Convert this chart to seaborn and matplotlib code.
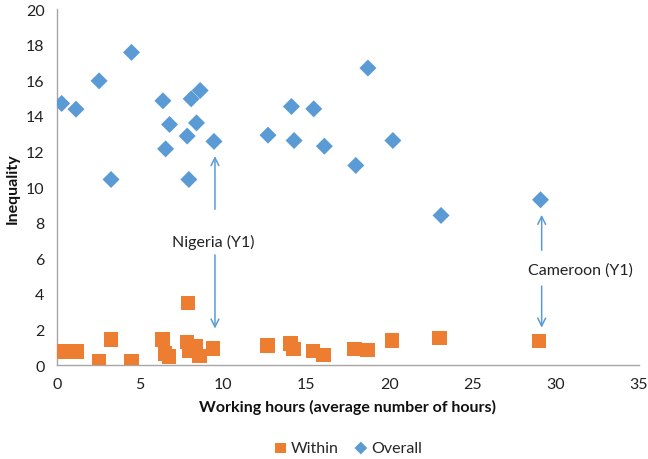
import numpy as np
import pandas as pd
import matplotlib
matplotlib.use("Agg")
import matplotlib.pyplot as plt
import seaborn as sns

overall_x = [0.28, 1.14, 2.53, 3.25, 4.48, 6.37, 6.53, 6.77, 7.83, 7.93, 8.07, 8.39,
             8.61, 9.44, 12.69, 14.10, 14.26, 15.44, 16.08, 17.97, 18.70, 20.20, 23.10, 29.08]
overall_y = [14.7, 14.38, 15.97, 10.43, 17.57, 14.85, 12.15, 13.52, 12.87, 10.43, 14.96, 13.61,
             15.43, 12.57, 12.92, 14.53, 12.62, 14.40, 12.30, 11.22, 16.69, 12.62, 8.41, 9.29]
within_x = [0.32, 1.16, 2.52, 3.24, 4.48, 6.36, 6.50, 6.74, 7.88, 7.82, 7.98, 8.36,
            8.58, 9.38, 12.66, 14.06, 14.22, 15.40, 16.04, 17.90, 18.68, 20.14, 23.00, 29.00]
within_y = [0.77, 0.77, 0.19, 1.44, 0.24, 1.44, 0.67, 0.49, 3.50, 1.31, 0.80, 1.05,
            0.52, 0.92, 1.12, 1.22, 0.90, 0.80, 0.58, 0.90, 0.84, 1.39, 1.52, 1.35]

df = pd.concat([
    pd.DataFrame({"x": within_x, "y": within_y, "series": "Within"}),
    pd.DataFrame({"x": overall_x, "y": overall_y, "series": "Overall"}),
])

sns.set_theme(style="white")
plt.rcParams['font.family'] = ['Lato', 'DejaVu Sans']

fig = plt.figure(figsize=(6.48, 4.60), dpi=100)
ax = fig.add_axes([0.088, 0.204, 0.898, 0.774])

palette = {"Within": "#ED7D31", "Overall": "#5B9BD5"}
markers = {"Within": "s", "Overall": "D"}
sizes = {"Within": 110, "Overall": 75}
for name in ["Overall", "Within"]:
    sub = df[df.series == name]
    sns.scatterplot(data=sub, x="x", y="y", color=palette[name], marker=markers[name],
                    s=sizes[name], edgecolor="none", ax=ax, label=name, zorder=3)

ax.set_xlim(0, 35)
ax.set_ylim(0, 20)
ax.set_xticks(np.arange(0, 36, 5))
ax.set_yticks(np.arange(0, 21, 2))
for s in ["top", "right"]:
    ax.spines[s].set_visible(False)
for s in ["left", "bottom"]:
    ax.spines[s].set_color("#A6A6A6")
    ax.spines[s].set_linewidth(1.0)
ax.tick_params(axis="both", which="both", direction="out", length=5, width=1,
               color="#A6A6A6", labelsize=11.5, labelcolor="#222222")
ax.tick_params(axis="y", pad=4)
ax.set_xlabel("Working hours (average number of hours)", fontsize=11.5, fontweight="bold",
              color="#111111", labelpad=6)
ax.set_ylabel("Inequality", fontsize=11.5, fontweight="bold", color="#111111", labelpad=4)

arrow_kw = dict(arrowstyle="->", color="#5B9BD5", lw=1.1, mutation_scale=14)
# Nigeria
ax.annotate("", xy=(9.5, 11.9), xytext=(9.5, 8.6), arrowprops=arrow_kw)
ax.annotate("", xy=(9.5, 1.9), xytext=(9.5, 6.35), arrowprops=arrow_kw)
ax.text(9.4, 6.97, "Nigeria (Y1)", ha="center", va="center", fontsize=11.5, color="#222222")
# Cameroon
ax.annotate("", xy=(29.15, 8.6), xytext=(29.15, 6.3), arrowprops=arrow_kw)
ax.annotate("", xy=(29.15, 1.95), xytext=(29.15, 4.6), arrowprops=arrow_kw)
ax.text(31.5, 5.35, "Cameroon (Y1)", ha="center", va="center", fontsize=11.5, color="#222222")

handles, labels = ax.get_legend_handles_labels()
order = [labels.index("Within"), labels.index("Overall")]
ax.legend([handles[i] for i in order], [labels[i] for i in order],
          loc="center", bbox_to_anchor=(0.5, -0.233), ncol=2, frameon=False,
          fontsize=11.5, handlelength=0.8, handletextpad=0.25, columnspacing=1.0,
          markerscale=0.75)

fig.savefig("out.png", dpi=100)
